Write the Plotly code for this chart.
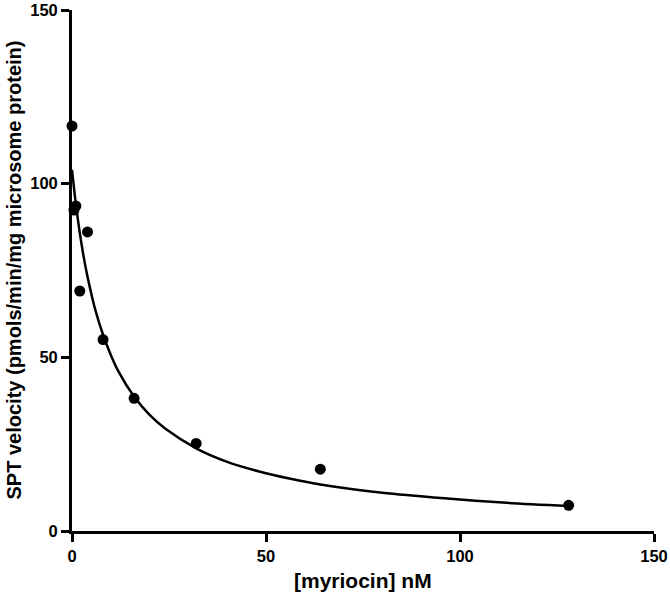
import plotly.graph_objects as go

# measured points
conc_nm = [0, 0.5, 1, 2, 4, 8, 16, 32, 64, 128]
velocity = [116.6, 92.4, 93.6, 69.1, 86.1, 55.1, 38.2, 25.2, 17.8, 7.4]

# fitted curve
fit_x = [0, 1, 2, 3, 4, 6, 8, 10, 12, 16, 20, 24, 32, 40, 48, 56, 64, 80, 96, 112, 128]
fit_y = [104, 94.1, 85.9, 79.0, 73.2, 63.7, 56.5, 50.7, 45.9, 38.7, 33.4, 29.5,
         23.8, 19.9, 17.2, 15.1, 13.4, 11.0, 9.4, 8.1, 7.2]

tick_vals = [0, 50, 100, 150]

FONT = "Liberation Sans, Arial, sans-serif"

fig = go.Figure()
fig.add_trace(
    go.Scatter(
        x=fit_x,
        y=fit_y,
        mode="lines",
        line={"color": "#000000", "width": 2.5, "shape": "spline", "smoothing": 0.8},
        cliponaxis=False,
        showlegend=False,
    )
)
fig.add_trace(
    go.Scatter(
        x=conc_nm,
        y=velocity,
        mode="markers",
        marker={"color": "#000000", "size": 11},
        cliponaxis=False,
        showlegend=False,
    )
)

axis_common = {
    "showgrid": False,
    "zeroline": False,
    "showline": True,
    "linecolor": "#000000",
    "linewidth": 2.8,
    "ticks": "outside",
    "ticklen": 8,
    "tickwidth": 2.8,
    "tickcolor": "#000000",
    "tickvals": tick_vals,
    "tickfont": {"family": FONT, "size": 16.5, "color": "#000000", "weight": "bold"},
    "range": [0, 150],
    "automargin": False,
    "ticklabeloverflow": "allow",
}

fig.update_layout(
    width=670,
    height=595,
    paper_bgcolor="white",
    plot_bgcolor="white",
    margin={"l": 72, "r": 16, "t": 9.5, "b": 64.3},
    xaxis=axis_common,
    yaxis=axis_common,
)

# axis titles placed as annotations for exact positioning
fig.add_annotation(
    text="[myriocin] nM",
    xref="paper", yref="paper", x=0.5, y=0,
    xanchor="center", yanchor="middle", yshift=-49,
    showarrow=False,
    font={"family": FONT, "size": 21, "color": "#000000", "weight": "bold"},
)
fig.add_annotation(
    text="SPT velocity (pmols/min/mg microsome protein)",
    xref="paper", yref="paper", x=0, y=0.5,
    xanchor="center", yanchor="middle", xshift=-59,
    textangle=-90,
    showarrow=False,
    font={"family": FONT, "size": 20, "color": "#000000", "weight": "bold"},
)

# drop the browser's default body margin so the figure sits at the window corner
fig.write_html(
    "out.html",
    config={"displayModeBar": False},
    post_script="document.body.style.margin='0';",
)
